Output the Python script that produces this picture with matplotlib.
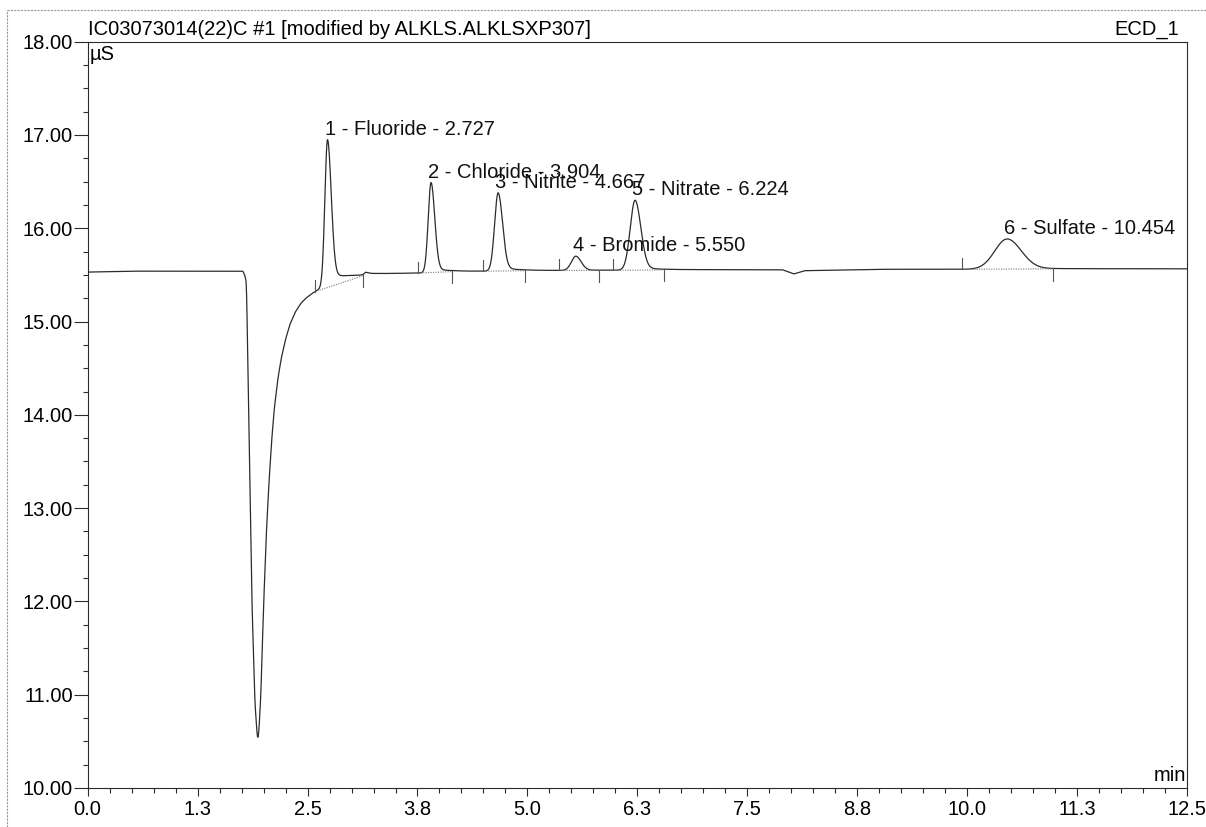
import numpy as np
import matplotlib
matplotlib.use("Agg")
import matplotlib.pyplot as plt
from matplotlib.ticker import MultipleLocator, FixedLocator, FormatStrFormatter
from matplotlib.lines import Line2D

plt.rcParams['font.family'] = ['Liberation Sans', 'DejaVu Sans']

# Run header
sample_title = "IC03073014(22)C #1 [modified by ALKLS.ALKLSXP307]"
channel = "ECD_1"

# Baseline trace (time in min, conductivity in µS), including the water dip
base_t = [0.00, 0.50, 1.00, 1.50, 1.765, 1.785, 1.805, 1.835, 1.867, 1.900, 1.922,
          1.934, 1.946, 1.968, 2.000, 2.030, 2.060, 2.090, 2.120, 2.160, 2.200,
          2.250, 2.300, 2.360, 2.420, 2.480, 2.550, 2.620, 2.700, 2.800, 2.950,
          3.130, 3.160, 3.220, 3.760, 4.140, 4.970, 6.000, 7.000, 7.900, 8.030,
          8.150, 9.000, 10.000, 11.000, 12.500]
base_v = [15.53, 15.54, 15.54, 15.54, 15.54, 15.50, 15.42, 13.84, 12.02, 10.95, 10.62,
          10.52, 10.60, 10.98, 11.95, 12.70, 13.25, 13.70, 14.05, 14.37, 14.60,
          14.81, 14.97, 15.10, 15.19, 15.25, 15.30, 15.34, 15.38, 15.42, 15.46,
          15.49, 15.52, 15.51, 15.52, 15.535, 15.545, 15.55, 15.555, 15.555, 15.51,
          15.545, 15.56, 15.56, 15.565, 15.565]

# Peak table
peak_no = [1, 2, 3, 4, 5, 6]
peak_name = ["Fluoride", "Chloride", "Nitrite", "Bromide", "Nitrate", "Sulfate"]
peak_rt = [2.727, 3.904, 4.667, 5.550, 6.224, 10.454]
peak_top = [16.95, 16.49, 16.38, 15.70, 16.30, 15.885]
peak_sig_l = [0.030, 0.032, 0.040, 0.050, 0.055, 0.140]
peak_sig_r = [0.042, 0.042, 0.050, 0.060, 0.065, 0.160]
peak_tail = [0.08, 0.05, 0.05, 0.03, 0.04, 0.02]
peak_start = [2.585, 3.760, 4.500, 5.360, 5.970, 9.940]
peak_end = [3.130, 4.140, 4.970, 5.810, 6.550, 10.980]

x_ticks = [0.0, 1.25, 2.5, 3.75, 5.0, 6.25, 7.5, 8.75, 10.0, 11.25, 12.5]
x_labels = ["0.0", "1.3", "2.5", "3.8", "5.0", "6.3", "7.5", "8.8", "10.0", "11.3", "12.5"]

LINE = "#2b2b2b"
FS = 14.5

t = np.linspace(0, 12.5, 12501)
baseline = np.interp(t, base_t, base_v)
# light smoothing of the detector trace (moving average over ~0.012 min)
k = np.ones(13) / 13
baseline = np.convolve(np.pad(baseline, 6, mode="edge"), k, mode="valid")


def peak_shape(x, rt, sl, sr, tail):
    dx = x - rt
    left = np.exp(-0.5 * (dx / sl) ** 2)
    right = (1 - tail) * np.exp(-0.5 * (dx / sr) ** 2) + tail * np.exp(-np.clip(dx, 0, None) / (4 * sr))
    return np.where(dx < 0, left, right)


signal = baseline.copy()
for rt, top, sl, sr, tl in zip(peak_rt, peak_top, peak_sig_l, peak_sig_r, peak_tail):
    h = top - np.interp(rt, t, baseline)
    signal += h * peak_shape(t, rt, sl, sr, tl)

fig = plt.figure(figsize=(12.06, 8.27), dpi=100)
ax = fig.add_axes([0.0727, 0.0472, 0.9116, 0.9024])

ax.plot(t, signal, color=LINE, lw=0.9, solid_joinstyle='round')

# Integration baselines and peak delimiters
for s, e in zip(peak_start, peak_end):
    ys = np.interp(s, t, baseline)
    ye = np.interp(e, t, baseline)
    ax.plot([s, e], [ys, ye], color="#777777", lw=0.8, ls=(0, (1, 1.2)))
    ax.plot([s, s], [np.interp(s, t, signal), np.interp(s, t, signal) + 0.12], color="#555555", lw=0.8)
    ax.plot([e, e], [np.interp(e, t, signal), np.interp(e, t, signal) - 0.13], color="#555555", lw=0.8)

# Peak labels
for n, name, rt, top in zip(peak_no, peak_name, peak_rt, peak_top):
    ax.annotate(f"{n} - {name} - {rt:.3f}", xy=(rt, top), xytext=(-2, 3.5),
                textcoords="offset points", ha="left", va="baseline",
                fontsize=FS, color="#111111")

ax.set_xlim(0, 12.5)
ax.set_ylim(10, 18)
ax.xaxis.set_major_locator(FixedLocator(x_ticks))
ax.set_xticklabels(x_labels)
ax.xaxis.set_minor_locator(MultipleLocator(0.25))
ax.yaxis.set_major_locator(MultipleLocator(1.0))
ax.yaxis.set_minor_locator(MultipleLocator(0.25))
ax.yaxis.set_major_formatter(FormatStrFormatter("%.2f"))

ax.tick_params(axis="y", which="major", direction="out", length=10, width=0.8, pad=0.5,
               labelsize=FS, color=LINE)
ax.tick_params(axis="y", which="minor", direction="out", length=3.5, width=0.8, color=LINE)
ax.tick_params(axis="x", which="major", direction="out", length=6, width=0.8, pad=2.5,
               labelsize=FS, color=LINE)
ax.tick_params(axis="x", which="minor", direction="out", length=3.5, width=0.8, color=LINE)

for sp in ax.spines.values():
    sp.set_linewidth(0.8)
    sp.set_color(LINE)

ax.text(0.0015, 0.995, "µS", transform=ax.transAxes, ha="left", va="top", fontsize=FS)
ax.text(0.999, 0.004, "min", transform=ax.transAxes, ha="right", va="bottom", fontsize=FS)
ax.text(0.0, 1.004, sample_title, transform=ax.transAxes, ha="left", va="bottom", fontsize=FS)
ax.text(0.993, 1.004, channel, transform=ax.transAxes, ha="right", va="bottom", fontsize=FS)

# Outer page frame
fig.add_artist(Line2D([0.006, 1.0], [0.988, 0.988], transform=fig.transFigure,
                      color="#999999", lw=0.8, ls=(0, (2, 1))))
fig.add_artist(Line2D([0.006, 0.006], [0.0, 0.988], transform=fig.transFigure,
                      color="#999999", lw=0.8, ls=(0, (2, 1))))

fig.savefig("out.png", dpi=100)
